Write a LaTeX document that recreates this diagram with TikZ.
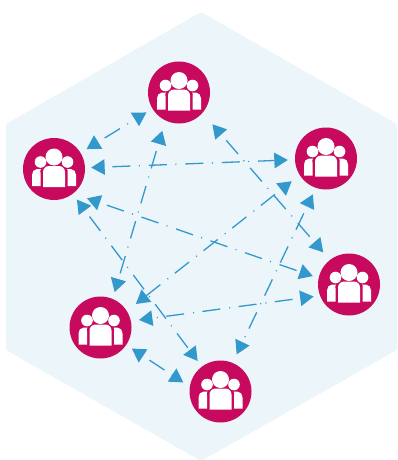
\documentclass[tikz,border=0pt]{standalone}
\usepackage{tikz}
\usetikzlibrary{arrows.meta}
\definecolor{hexfill}{HTML}{EBF5FA}
\definecolor{teamred}{HTML}{C70A5D}
\definecolor{linkblue}{HTML}{3399CC}
\tikzstyle{team} = [circle, fill=teamred, minimum size=62pt, inner sep=0pt]
\tikzstyle{link} = [<->, linkblue, line width=1.3pt, dash pattern=on 18pt off 8.5pt on 1pt off 9pt, dash phase=28.5pt, shorten >=7pt, shorten <=7pt]
\tikzset{people/.pic={
    \fill [white] (0,-12) circle (8.5pt);
    \fill [white] (-13.5,-7) circle (5.8pt);
    \fill [white] (13.5,-7) circle (5.8pt);
    \fill [white] (-11,18) -- (-11,3) to[out=90,in=180] (-5,-3) -- (5,-3) to[out=0,in=90] (11,3) -- (11,18) -- cycle;
    \fill [white] (-22,17) -- (-22,6) to[out=90,in=180] (-17,0) -- (-13,0) to[out=200,in=90] (-13.5,4) -- (-13.5,17) -- cycle;
    \fill [white] (22,17) -- (22,6) to[out=90,in=0] (17,0) -- (13,0) to[out=-20,in=90] (13.5,4) -- (13.5,17) -- cycle;
}}

\begin{document}
\begin{tikzpicture}[x=1pt, y=-1pt, >={Triangle[length=13.5pt,width=15.5pt]}]
    \useasboundingbox (0,0) rectangle (398,460);
    % backdrop
    \fill [hexfill, rounded corners=1.5pt] (201,12) -- (397,124) -- (397,350) -- (201,461) -- (6,350) -- (6,124) -- cycle;

    \node [team] (top) at (179,92.5) {};
    \node [team] (right) at (326,158.5) {};
    \node [team] (lowright) at (349,284.5) {};
    \node [team] (bottom) at (220.5,391.5) {};
    \node [team] (lowleft) at (100.5,327.5) {};
    \node [team] (left) at (54,169) {};

    \foreach \n in {top,right,lowright,bottom,lowleft,left}
        \pic at (\n) {people};

    \draw [link] (left) -- (top);
    \draw [link, shorten <=6pt] (left) -- (right);
    \draw [link, shorten <=15pt, shorten >=10pt] (top.-41.6) -- (lowright.128.6);
    \draw [link, shorten <=10.7pt] (top.-116.6) -- (lowleft.67.8);
    \draw [link] (left) -- (bottom);
    \draw [link, shorten <=14.5pt, shorten >=6pt] (left.-52) -- (lowright.168.8);
    \draw [link, shorten <=10pt, shorten >=11.3pt] (right.-148) -- (lowleft.32.7);
    \draw [link, shorten >=9.3pt] (right.-109.6) -- (bottom.67.3);
    \draw [link, shorten <=6.3pt, shorten >=8pt] (lowright.-159) -- (lowleft.12.4);
    \draw [link, shorten <=6.5pt, shorten >=7.6pt] (lowleft.-34) -- (bottom.171.6);
\end{tikzpicture}
\end{document}
